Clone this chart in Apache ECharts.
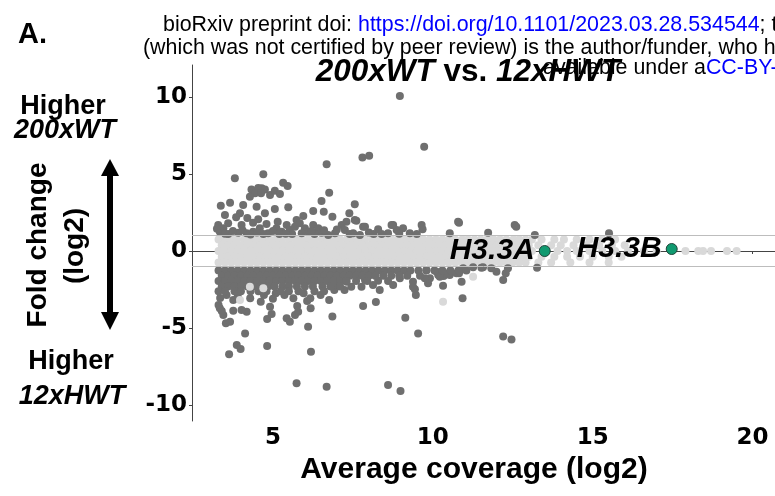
<!DOCTYPE html>
<html>
<head>
<meta charset="utf-8">
<script src="https://cdn.jsdelivr.net/npm/echarts@6/dist/echarts.min.js"></script>
<style>
html, body { margin: 0; padding: 0; background: #fff; }
#chart { width: 775px; height: 496px; }
</style>
</head>
<body>
<div id="chart"></div>
<script>
// axis ticks
var xTicks = [5, 10, 15, 20];
var yTicks = [-10, -5, 0, 5, 10];
var thresholds = [1, -1];

// non significant genes (light grey), dense band between -1 and 1
var bandY = [0.74, 0.37, 0.0, -0.37, -0.74];
var bandX = [
  [3.3,3.52,3.7,3.88,4.1,4.31,4.5,4.69,4.9,5.1,5.28,5.5,5.71,5.9,6.1,6.3,6.52,6.7,6.9,7.1,7.31,7.5,7.7,7.88,8.1,8.3,8.5,8.71,8.9,9.1,9.3,9.52,9.7,9.9,10.1,10.3,10.5,10.7,10.92,11.1,11.3,11.5,11.7,11.9,12.1,12.3,12.52,12.7,12.9,13.1,13.4,13.8,14.1,14.5,14.9,15.3,15.7],
  [3.4,3.6,3.8,4.0,4.2,4.4,4.6,4.8,5.0,5.2,5.4,5.6,5.8,6.0,6.2,6.4,6.6,6.8,7.0,7.2,7.4,7.6,7.8,8.0,8.2,8.4,8.6,8.8,9.0,9.2,9.4,9.6,9.8,10.0,10.2,10.4,10.6,10.8,11.0,11.2,11.4,11.6,11.8,12.0,12.2,12.4,12.6,12.8,13.0,13.3,13.7,14.0,14.4,14.8,15.2,15.6,16.0],
  [3.3,3.5,3.7,3.9,4.1,4.3,4.5,4.7,4.9,5.1,5.3,5.5,5.7,5.9,6.1,6.3,6.5,6.7,6.9,7.1,7.3,7.5,7.7,7.9,8.1,8.3,8.5,8.7,8.9,9.1,9.3,9.5,9.7,9.9,10.1,10.3,10.5,10.7,10.9,11.1,11.3,11.5,11.7,11.9,12.1,12.3,12.5,12.7,12.9,13.1,13.9,14.2,14.5,14.9,15.3,15.7,16.1,16.6,17.0,17.9,18.3,18.45,18.7,19.2,19.5],
  [3.4,3.6,3.8,4.0,4.2,4.4,4.6,4.8,5.0,5.2,5.4,5.6,5.8,6.0,6.2,6.4,6.6,6.8,7.0,7.2,7.4,7.6,7.8,8.0,8.2,8.4,8.6,8.8,9.0,9.2,9.4,9.6,9.8,10.0,10.2,10.4,10.6,10.8,11.0,11.2,11.4,11.6,11.8,12.0,12.2,12.4,12.6,12.8,13.0,13.4,13.8,14.2,14.6,15.0,15.5,15.9],
  [3.3,3.5,3.7,3.9,4.1,4.3,4.5,4.7,4.9,5.1,5.3,5.5,5.7,5.9,6.1,6.3,6.5,6.7,6.9,7.1,7.3,7.5,7.7,7.9,8.1,8.3,8.5,8.7,8.9,9.1,9.3,9.5,9.7,9.9,10.1,10.3,10.5,10.7,10.9,11.1,11.3,11.5,11.7,11.9,12.1,12.3,12.5,12.7,12.9,13.3,13.7,14.3,14.9,15.5]
];
// light grey points lying among the dark ones
var lightOutliers = [[3.97,-3.18],[4.28,-2.32],[4.7,-2.42],[10.32,-3.3],[11.26,-1.67]];

// significant genes, higher in 200xWT
var darkUp = [
  [8.97,10.06],[9.73,6.77],[7.8,6.08],[8.01,6.19],[6.68,5.63],[6.76,3.79],[3.81,4.72],[4.7,4.98],
  [5.32,4.43],[5.46,4.22],[4.33,4.0],[4.54,4.1],[4.65,4.07],[4.75,4.0],[4.44,3.75],[4.63,3.75],
  [4.91,3.64],[5.06,3.92],[5.22,3.7],[4.28,3.53],[3.37,2.94],[3.66,3.14],[4.07,2.99],[4.49,2.88],
  [5.06,2.73],[5.48,2.84],[3.5,2.34],[3.97,2.45],[4.75,2.45],[6.52,3.25],[6.59,2.55],[6.26,2.6],
  [6.86,2.23],[7.56,3.03],[7.39,2.45],[5.95,2.27],[5.74,2.01],[7.61,1.97],[3.29,1.69],[3.6,1.8],
  [4.02,1.69],[4.38,1.84],[4.54,2.06],[4.8,1.75],[5.15,1.9],[4.2,2.15],[3.85,2.2],
  [3.34,1.25],[3.45,1.47],[3.92,1.19],[4.18,1.15],[4.38,1.25],[4.59,1.47],[4.85,1.15],[5.11,1.47],
  [5.27,1.25],[5.43,1.69],[5.53,1.36],[5.69,1.58],[5.84,1.8],[6.0,1.47],[6.1,1.25],[6.26,1.69],
  [6.42,1.47],[6.52,1.19],[6.73,1.04],[6.94,1.15],[7.15,1.69],[7.25,1.36],[7.51,1.15],[7.72,1.04],
  [7.82,1.58],[8.29,1.41],[8.6,1.15],[8.76,1.69],[8.87,1.36],[9.07,1.47],[9.28,1.15],[9.65,1.69],
  [9.68,1.41],[10.53,1.15],[10.82,1.84],[11.73,1.19],[12.56,1.69],[12.61,1.58],[13.19,1.04],[15.51,1.15],
  [3.6,1.1],[4.05,1.35],[4.7,1.1],[5.0,1.3],[5.6,1.1],[5.9,1.15],[6.3,1.1],[7.0,1.4],[8.0,1.2],
  [8.4,1.1],[3.25,1.45],[7.3,1.9],[7.56,2.01],[7.88,1.58],[8.71,1.69],[10.79,1.9],
  [3.5,1.12],[3.75,1.3],[4.3,1.08],[4.5,1.2],[5.2,1.1],[5.4,1.12],[6.2,1.3],[6.6,1.35],[7.4,1.1],
  [8.15,1.1],[8.95,1.12],[9.5,1.1]
];

// significant genes, higher in 12xHWT: dense rows under the -1 line
var darkRowY = [-1.26, -1.6, -1.95, -2.3, -2.62];
var darkRowX = [
  [3.3,3.5,3.7,3.9,4.1,4.3,4.5,4.7,4.9,5.1,5.3,5.5,5.7,5.9,6.1,6.3,6.5,6.7,6.9,7.1,7.3,7.5,7.7,7.9,8.1,8.3,8.5,8.7,8.9,9.1,9.3,9.55,9.8,10.05,10.3,10.55,10.8,11.05],
  [3.4,3.6,3.8,4.0,4.2,4.4,4.6,4.8,5.0,5.2,5.4,5.6,5.8,6.0,6.2,6.4,6.6,6.8,7.0,7.2,7.4,7.6,7.8,8.0,8.2,8.45,8.7,8.95,9.2,9.6],
  [3.3,3.5,3.7,3.9,4.1,4.3,4.5,4.7,4.9,5.1,5.3,5.5,5.7,5.9,6.1,6.3,6.5,6.7,6.9,7.1,7.3,7.6,7.95,8.6],
  [3.4,3.6,3.8,4.0,4.2,4.45,4.6,4.85,5.05,5.3,5.5,5.75,6.0,6.25,6.55,6.8,7.1],
  [3.3,3.5,3.8,4.0,4.3,4.55,4.8,5.25,5.5,5.8,6.3,6.6]
];
var darkDown = [
  [3.34,-3.72],[3.45,-4.16],[3.53,-4.69],[3.66,-4.59],[4.13,-5.35],[3.87,-6.1],[3.99,-6.36],[3.63,-6.71],
  [4.82,-6.17],[4.82,-4.42],[4.96,-4.09],[4.91,-3.62],[4.18,-3.94],[4.02,-3.83],[3.76,-3.88],[3.3,-3.5],
  [3.4,-3.9],[5.43,-4.37],[5.53,-4.59],[5.69,-4.16],[5.79,-3.94],[5.76,-3.57],[6.1,-4.92],[6.18,-3.72],
  [6.07,-3.25],[6.19,-6.54],[5.74,-8.59],[6.68,-8.81],[6.86,-4.26],[6.76,-3.18],[7.82,-3.57],[8.22,-3.31],
  [8.34,-2.53],[8.29,-1.93],[8.6,-8.7],[8.99,-9.09],[9.14,-4.33],[9.54,-5.35],[9.44,-2.49],[9.47,-2.86],
  [9.38,-1.99],[10.32,-2.25],[10.34,-1.62],[10.93,-3.07],[10.9,-1.99],[10.82,-1.45],[9.85,-2.1],[9.91,-1.77],
  [10.12,-1.34],[11.57,-1.05],[11.26,-1.06],[12.2,-5.56],[12.46,-5.74],[9.8,-1.23],[10.17,-1.56],[10.38,-1.45],
  [10.84,-1.23],[10.95,-1.12],[11.52,-1.08],[11.83,-1.12],[11.99,-1.34],[12.2,-1.88],[12.28,-1.45],[12.35,-1.12],
  [13.26,-1.08],[3.76,-3.18],[3.55,-2.86],[4.29,-3.07],[4.62,-3.29],[4.72,-2.86],[5.09,-2.75],[5.36,-2.86],
  [5.64,-3.07],[5.96,-2.75],[6.17,-3.07],[6.49,-2.86],[6.92,-2.53],[7.24,-2.53],[7.45,-2.32],[7.77,-2.32],
  [7.3,-1.99],[7.61,-1.67],[7.88,-1.88],[8.13,-2.21],[8.76,-2.21],[8.97,-1.77],[9.38,-2.32],[9.75,-1.77],
  [10.22,-1.67],[10.53,-1.56],[10.74,-1.45],[3.35,-3.05],[3.9,-2.95],[5.0,-3.1],[7.0,-2.2]
];

// highlighted genes
var geneNames = ['H3.3A', 'H3.3B'];
var geneX = [13.5, 17.47];
var geneY = [0.0, 0.13];

var lightPts = [];
bandX.forEach(function (row, i) {
  row.forEach(function (x) { lightPts.push([x, bandY[i]]); });
});
var darkPts = darkUp.concat(darkDown);
darkRowX.forEach(function (row, i) {
  row.forEach(function (x) { darkPts.push([x, darkRowY[i]]); });
});
var genePts = geneNames.map(function (n, i) {
  return { name: n, value: [geneX[i], geneY[i]] };
});

var SANS = "'Liberation Sans', Arial, sans-serif";
var chart = echarts.init(document.getElementById('chart'), null, { renderer: 'canvas' });

chart.setOption({
  animation: false,
  backgroundColor: '#ffffff',
  grid: { left: 192, right: 0, top: 65, bottom: 75, containLabel: false },
  xAxis: {
    type: 'value', min: 2.47, max: 20.7,
    splitLine: { show: false },
    axisLine: { lineStyle: { color: '#444', width: 1 } },
    axisTick: { show: true, length: 3, customValues: xTicks, lineStyle: { color: '#444' } },
    axisLabel: {
      customValues: xTicks, margin: 6, color: '#000',
      fontFamily: 'DejaVu Sans', fontWeight: 'bold', fontSize: 23
    }
  },
  yAxis: {
    type: 'value', min: -11.04, max: 12.08,
    splitLine: { show: false },
    axisLine: { show: true, lineStyle: { color: '#444', width: 1 } },
    axisTick: { show: true, length: 3, customValues: yTicks, lineStyle: { color: '#444' } },
    axisLabel: {
      customValues: yTicks, margin: 5, color: '#000',
      fontFamily: 'DejaVu Sans', fontWeight: 'bold', fontSize: 23
    }
  },
  series: [
    {
      type: 'line', data: [], z: 1, silent: true,
      markLine: {
        silent: true, symbol: ['none', 'none'], label: { show: false },
        lineStyle: { color: '#bdbdbd', width: 1, type: 'solid' },
        data: thresholds.map(function (t) { return { yAxis: t }; })
      }
    },
    { type: 'scatter', data: lightPts, symbolSize: 8, z: 2, itemStyle: { color: '#d9d9d9', opacity: 1 } },
    { type: 'scatter', data: darkPts, symbolSize: 8, z: 3, itemStyle: { color: '#6f6f6f', opacity: 1 } },
    { type: 'scatter', data: lightOutliers, symbolSize: 8, z: 4, itemStyle: { color: '#d9d9d9', opacity: 1 } },
    {
      type: 'scatter', data: genePts, symbolSize: 11, z: 5,
      itemStyle: { color: '#109a70', borderColor: '#22463b', borderWidth: 1, opacity: 1 },
      label: {
        show: true, position: 'left', distance: 4, formatter: '{b}', color: '#000',
        fontFamily: SANS, fontWeight: 'bold', fontStyle: 'italic', fontSize: 30
      }
    }
  ],
  graphic: [
    { type: 'text', left: 18, top: 20, style: { text: 'A.', font: 'bold 29px ' + SANS, fill: '#000' } },
    {
      type: 'text', x: 163, y: 25, style: {
        text: '{k|bioRxiv preprint doi: }{b|https://doi.org/10.1101/2023.03.28.534544}{k|; t}',
        textVerticalAlign: 'middle',
        rich: { k: { font: '21.4px ' + SANS, fill: '#000' }, b: { font: '21.4px ' + SANS, fill: '#0000ff' } }
      }
    },
    {
      type: 'text', x: 143, y: 48, style: {
        text: '(which was not certified by peer review) is the author/funder, who h',
        font: '21.4px ' + SANS, fill: '#000', textVerticalAlign: 'middle'
      }
    },
    {
      type: 'text', x: 543, y: 68, style: {
        text: '{k|available under a}{b|CC-BY-}',
        textVerticalAlign: 'middle',
        rich: { k: { font: '21.4px ' + SANS, fill: '#000' }, b: { font: '21.4px ' + SANS, fill: '#0000ff' } }
      }
    },
    {
      type: 'text', x: 468, y: 72, z: 10, style: {
        text: '{i|200xWT}{n| vs. }{i|12xHWT}',
        textAlign: 'center', textVerticalAlign: 'middle',
        rich: { i: { font: 'italic bold 31.5px ' + SANS, fill: '#000' }, n: { font: 'bold 31.5px ' + SANS, fill: '#000' } }
      }
    },
    { type: 'text', x: 63, y: 107, style: { text: 'Higher', font: 'bold 27px ' + SANS, fill: '#000', textAlign: 'center', textVerticalAlign: 'middle' } },
    { type: 'text', x: 65, y: 131, style: { text: '200xWT', font: 'italic bold 27px ' + SANS, fill: '#000', textAlign: 'center', textVerticalAlign: 'middle' } },
    { type: 'text', x: 38, y: 245, rotation: Math.PI / 2, style: { text: 'Fold change', font: 'bold 28px ' + SANS, fill: '#000', textAlign: 'center', textVerticalAlign: 'middle' } },
    { type: 'text', x: 75, y: 246, rotation: Math.PI / 2, style: { text: '(log2)', font: 'bold 28px ' + SANS, fill: '#000', textAlign: 'center', textVerticalAlign: 'middle' } },
    { type: 'rect', shape: { x: 107, y: 172, width: 6, height: 144 }, style: { fill: '#000' } },
    { type: 'polygon', shape: { points: [[101, 176], [119, 176], [110, 159]] }, style: { fill: '#000' } },
    { type: 'polygon', shape: { points: [[101, 312], [119, 312], [110, 330]] }, style: { fill: '#000' } },
    { type: 'text', x: 71, y: 362, style: { text: 'Higher', font: 'bold 27px ' + SANS, fill: '#000', textAlign: 'center', textVerticalAlign: 'middle' } },
    { type: 'text', x: 72, y: 397, style: { text: '12xHWT', font: 'italic bold 27px ' + SANS, fill: '#000', textAlign: 'center', textVerticalAlign: 'middle' } },
    { type: 'text', x: 474, y: 470, style: { text: 'Average coverage (log2)', font: 'bold 30px ' + SANS, fill: '#000', textAlign: 'center', textVerticalAlign: 'middle' } },
    { type: 'text', x: 18, y: 495, style: { text: 'B.', font: 'bold 29px ' + SANS, fill: '#000' } }
  ]
});
</script>
</body>
</html>
